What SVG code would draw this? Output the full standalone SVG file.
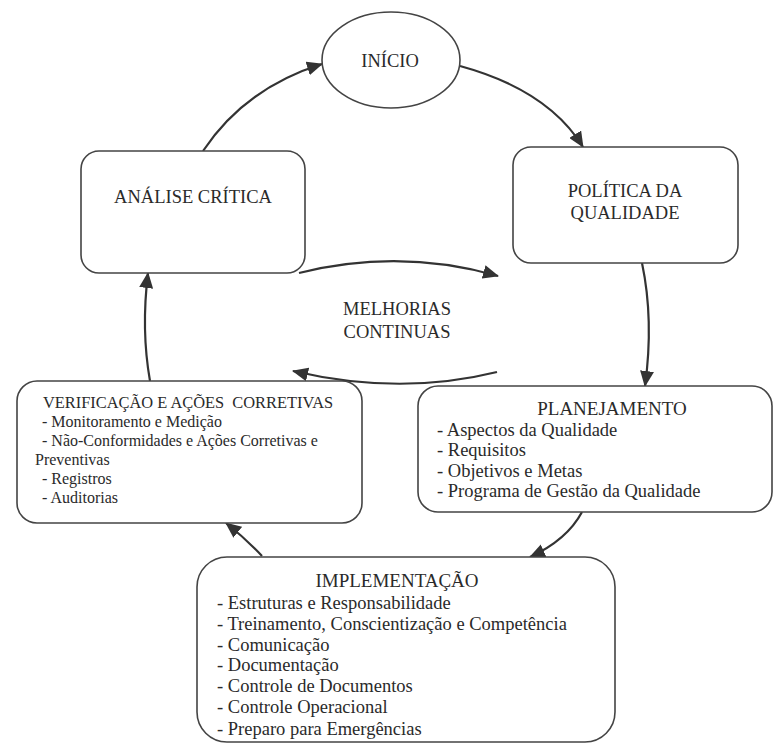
<svg xmlns="http://www.w3.org/2000/svg" width="774" height="746" viewBox="0 0 774 746">
<defs>
<marker id="ah" viewBox="0 0 16 14" refX="15" refY="7" markerWidth="16" markerHeight="14" markerUnits="userSpaceOnUse" orient="auto">
<path d="M0,0 L16,7 L0,14 Z" fill="#333"/>
</marker>
</defs>
<style>
.box{fill:#fff;stroke:#444;stroke-width:1.6}
.c{fill:none;stroke:#333;stroke-width:2.2;marker-end:url(#ah)}
text{font-family:"Liberation Serif","Times New Roman",serif;fill:#2a2a2a}
.t{font-size:18.5px;text-anchor:middle}
.h{font-size:19px;text-anchor:middle}
.v{font-size:16.4px;text-anchor:middle}
.i{font-size:18.5px}
.s{font-size:16px}
</style>
<rect width="774" height="746" fill="#fff"/>
<g id="connectors">
<path class="c" d="M203,151 Q245,88 322,64"/>
<path class="c" d="M460,66 Q548,90 583,147"/>
<path class="c" d="M642,263 Q654,320 645,386"/>
<path class="c" d="M582,512 Q567,540 530,557"/>
<path class="c" d="M262,556 Q245,538 226,523"/>
<path class="c" d="M150,381 Q141,330 148,273"/>
<path class="c" d="M299,273 Q400,248 498,276"/>
<path class="c" d="M497,372 Q400,396 293,371"/>
</g>
<g id="inicio">
<ellipse class="box" cx="391" cy="60" rx="69" ry="48"/>
<text class="t" x="390" y="67">INÍCIO</text>
</g>
<g id="analise">
<rect class="box" x="81" y="151" width="224" height="122" rx="18"/>
<text class="t" x="193" y="203">ANÁLISE CRÍTICA</text>
</g>
<g id="politica">
<rect class="box" x="513" y="147" width="225" height="116" rx="18"/>
<text class="t" x="625" y="197">POLÍTICA DA</text>
<text class="t" x="625" y="219">QUALIDADE</text>
</g>
<g id="melhorias">
<text class="t" x="397" y="315">MELHORIAS</text>
<text class="t" x="397" y="338">CONTINUAS</text>
</g>
<g id="verificacao">
<rect class="box" x="17" y="381" width="345" height="142" rx="20"/>
<text class="v" x="188" y="408">VERIFICAÇÃO E AÇÕES&#160; CORRETIVAS</text>
<text class="s" x="42" y="427">- Monitoramento e Medição</text>
<text class="s" x="42" y="446">- Não-Conformidades e Ações Corretivas e</text>
<text class="s" x="35" y="465">Preventivas</text>
<text class="s" x="42" y="484">- Registros</text>
<text class="s" x="42" y="503">- Auditorias</text>
</g>
<g id="planejamento">
<rect class="box" x="418" y="386" width="354" height="126" rx="20"/>
<text class="h" x="612" y="415">PLANEJAMENTO</text>
<text class="i" x="437" y="436">- Aspectos da Qualidade</text>
<text class="i" x="437" y="456">- Requisitos</text>
<text class="i" x="437" y="477">- Objetivos e Metas</text>
<text class="i" x="437" y="497">- Programa de Gestão da Qualidade</text>
</g>
<g id="implementacao">
<rect class="box" x="197" y="557" width="418" height="185" rx="30"/>
<text class="h" x="397" y="587">IMPLEMENTAÇÃO</text>
<text class="i" x="217" y="609">- Estruturas e Responsabilidade</text>
<text class="i" x="217" y="630">- Treinamento, Conscientização e Competência</text>
<text class="i" x="217" y="651">- Comunicação</text>
<text class="i" x="217" y="671">- Documentação</text>
<text class="i" x="217" y="692">- Controle de Documentos</text>
<text class="i" x="217" y="713">- Controle Operacional</text>
<text class="i" x="217" y="735">- Preparo para Emergências</text>
</g>
</svg>
